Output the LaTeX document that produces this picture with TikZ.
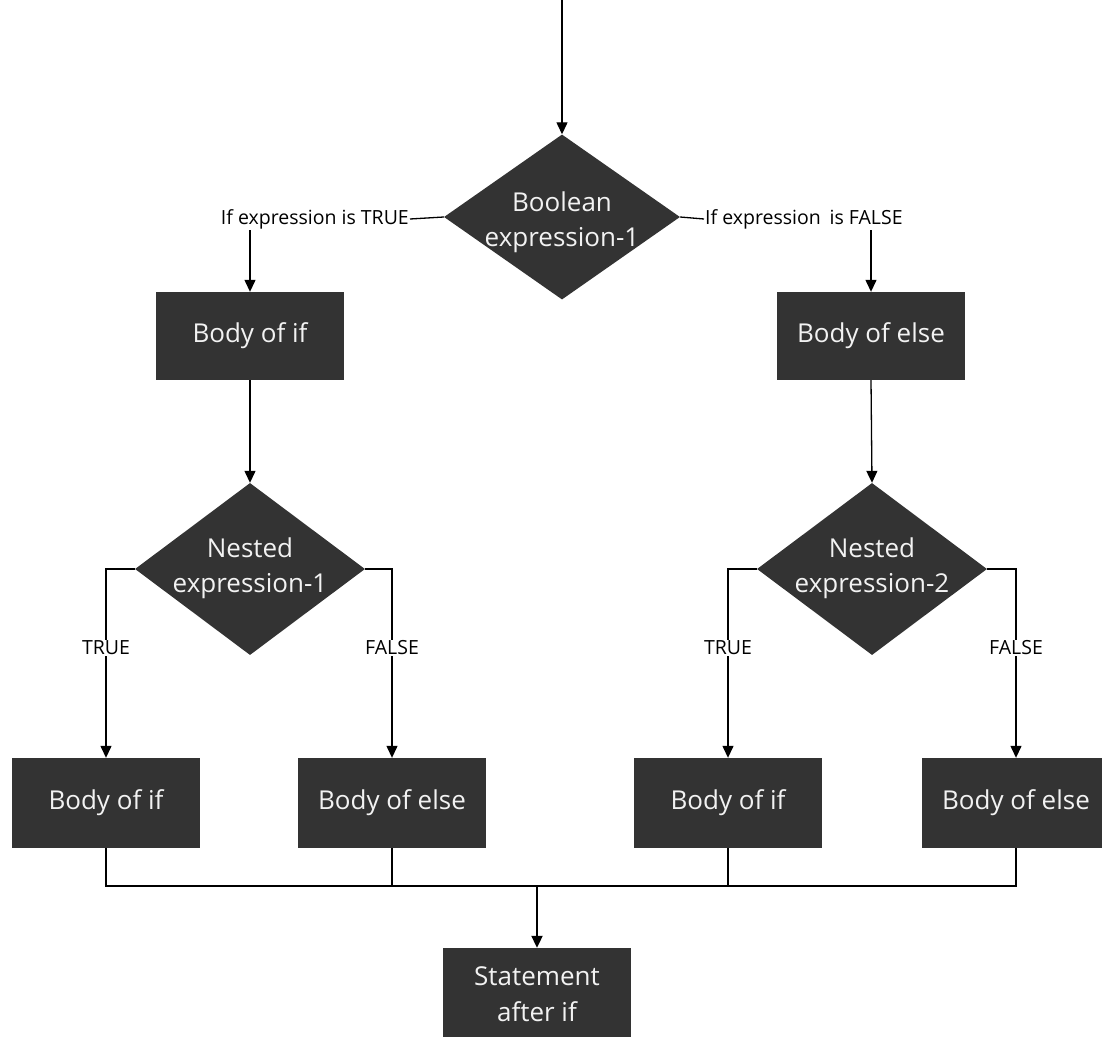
\documentclass[tikz,border=0pt]{standalone}
\usepackage{fontspec}
\setmainfont{Open Sans}
\usetikzlibrary{shapes.geometric,arrows.meta}
\definecolor{boxc}{HTML}{333333}
\definecolor{txtc}{HTML}{F2F2F2}
\begin{document}
\begin{tikzpicture}[x=1pt,y=-1pt,
 box/.style={fill=boxc,draw=none,text=txtc,minimum width=188pt,minimum height=88pt,inner sep=0pt,font=\fontsize{26}{36}\selectfont,align=center},
 dia/.style={shape=diamond,fill=boxc,inner sep=0pt},
 diatext/.style={text=txtc,inner sep=0pt,font=\fontsize{26}{35}\selectfont,align=center},
 lbl/.style={font=\fontsize{19.5}{21}\selectfont,inner sep=1pt},
 line/.style={line width=1.3pt,draw=black},
 arr/.style={line,-{Triangle[length=12pt,width=11pt]}}]
\useasboundingbox (0,0) rectangle (1102,1036);
% nodes
\node[dia,minimum width=236pt,minimum height=165pt] (d0) at (562,217) {};
\node[diatext] (d0t) at (562,222) {Boolean\\expression-1};
\node[box] (b0) at (250,336) {Body of if};
\node[box] (e0) at (871,336) {Body of else};
\node[dia,minimum width=230pt,minimum height=172pt] (n1) at (250,569) {};
\node[diatext] (n1t) at (250,568) {Nested\\expression-1};
\node[dia,minimum width=230pt,minimum height=172pt] (n2) at (872,569) {};
\node[diatext] (n2t) at (872,568) {Nested\\expression-2};
\node[box,minimum height=90pt] (b1) at (106,803) {Body of if};
\node[box,minimum height=90pt] (b2) at (392,803) {Body of else};
\node[box,minimum height=90pt] (b3) at (728,803) {Body of if};
\node[box,minimum height=90pt] (b4) at (1016,803) {Body of else};
\node[box,minimum height=92pt] (st) at (537,994) {Statement\\after if};
% top
\coordinate (top) at (562,0);
\draw[arr] (top) -- (d0.north);
\node[lbl,anchor=east] (lt) at (410,219) {If expression is TRUE};
\node[lbl,anchor=west] (lf) at (704,219) {If expression\hspace{0.45em}is FALSE};
\draw[line] (d0.west) -- (lt.east);
\draw[line] (d0.east) -- (lf.west);
\draw[arr] (lt.south -| b0.north) -- (b0.north);
\draw[arr] (lf.south -| e0.north) -- (e0.north);
\draw[arr] (b0.south) -- (n1.north);
\draw[arr] (e0.south) -- (n2.north);
% nested branches
\draw[arr] (n1.west) -| (b1.north);
\draw[arr] (n1.east) -| (b2.north);
\draw[arr] (n2.west) -| (b3.north);
\draw[arr] (n2.east) -| (b4.north);
\node[lbl,fill=white] (t1) at (106,648) {TRUE};
\node[lbl,fill=white] (f1) at (392,648) {FALSE};
\node[lbl,fill=white] (t2) at (728,648) {TRUE};
\node[lbl,fill=white] (f2) at (1016,648) {FALSE};
% merge
\coordinate (m) at (537,886);
\draw[line] (b1.south) |- (b4.south |- m) -- (b4.south);
\draw[line] (b2.south) -- (b2.south |- m);
\draw[line] (b3.south) -- (b3.south |- m);
\draw[line,line width=2pt] (b2.south |- m) -- (b3.south |- m);
\draw[arr,line width=2pt] (m) -- (st.north);
\end{tikzpicture}
\end{document}
